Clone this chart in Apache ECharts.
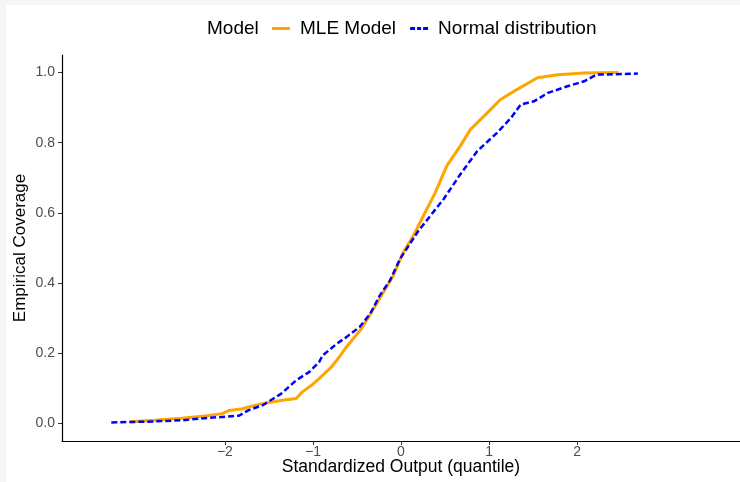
<!DOCTYPE html>
<html>
<head>
<meta charset="utf-8">
<script src="https://cdn.jsdelivr.net/npm/echarts@6/dist/echarts.min.js"></script>
<style>html,body{margin:0;padding:0;background:#f7f5f7;}#c{width:740px;height:482px;}</style>
</head>
<body>
<div id="c"></div>
<script>
const xTicks = [-2, -1, 0, 1, 2];
const yTicks = [0, 0.2, 0.4, 0.6, 0.8, 1.0];
const seriesNames = ['MLE Model', 'Normal distribution'];
const mleModel = [
  [-3.08,0.005],[-2.8,0.009],[-2.49,0.015],[-2.2,0.022],[-2.03,0.028],[-1.95,0.037],[-1.8,0.042],
  [-1.73,0.047],[-1.6,0.055],[-1.5,0.060],[-1.35,0.066],[-1.19,0.071],[-1.12,0.090],[-1.02,0.108],
  [-0.93,0.128],[-0.79,0.161],[-0.7,0.19],[-0.62,0.218],[-0.45,0.27],[-0.335,0.317],[-0.2,0.374],
  [-0.088,0.421],[0.026,0.488],[0.14,0.535],[0.255,0.592],[0.389,0.658],[0.52,0.734],[0.674,0.791],
  [0.789,0.838],[0.98,0.885],[1.13,0.923],[1.32,0.952],[1.55,0.985],[1.78,0.994],[2.08,0.999],[2.47,1.0]
];
const normalDist = [
  [-3.29,0.003],[-2.9,0.005],[-2.49,0.009],[-2.18,0.016],[-1.84,0.022],[-1.73,0.038],[-1.57,0.052],
  [-1.48,0.066],[-1.36,0.085],[-1.19,0.123],[-1.04,0.147],[-0.93,0.175],[-0.89,0.194],[-0.73,0.227],
  [-0.62,0.246],[-0.47,0.275],[-0.35,0.3125],[-0.24,0.365],[-0.126,0.407],[-0.011,0.469],[0.198,0.549],
  [0.483,0.639],[0.674,0.710],[0.865,0.776],[1.09,0.828],[1.25,0.871],[1.36,0.909],[1.51,0.918],
  [1.67,0.942],[1.89,0.961],[2.08,0.975],[2.22,0.994],[2.69,0.997]
];

const chart = echarts.init(document.getElementById('c'), null, {renderer: 'canvas'});
const FONT = 'Liberation Sans';
chart.setOption({
  backgroundColor: '#f7f5f7',
  animation: false,
  graphic: [
    {type: 'rect', left: 6, top: 5, shape: {width: 734, height: 477}, style: {fill: '#ffffff'}, z: -100, silent: true},
    {type: 'text', x: 207, y: 29, style: {text: 'Model', font: '19px "Liberation Sans"', fill: '#000', textVerticalAlign: 'middle'}}
  ],
  legend: {
    left: 272, top: 19, padding: 0,
    itemWidth: 18, itemHeight: 3, itemGap: 14,
    data: [
      {name: seriesNames[0], icon: 'path://M0,0H18V3H0Z'},
      {name: seriesNames[1], icon: 'path://M0,0H5V3H0Z M7,0H11V3H7Z M13,0H18V3H13Z'}
    ],
    textStyle: {fontFamily: FONT, fontSize: 19, color: '#000', padding: [0, 0, 0, 5]}
  },
  grid: {left: 62, right: 0, top: 55, bottom: 41, containLabel: false, outerBoundsMode: 'none'},
  xAxis: {
    type: 'value', min: -3.85, max: 3.85,
    name: 'Standardized Output (quantile)', nameLocation: 'middle', nameGap: 17, nameMoveOverlap: false,
    nameTextStyle: {fontFamily: FONT, fontSize: 17.5, color: '#000'},
    axisLine: {show: true, onZero: false, lineStyle: {color: '#000', width: 1.2}},
    axisTick: {show: true, length: 4, customValues: xTicks, lineStyle: {color: '#333'}},
    axisLabel: {customValues: xTicks, fontFamily: FONT, fontSize: 14, color: '#4d4d4d', margin: 4,
      formatter: v => String(v).replace('-', '\u2212')},
    splitLine: {show: false}
  },
  yAxis: {
    type: 'value', min: -0.05, max: 1.05,
    name: 'Empirical Coverage', nameLocation: 'middle', nameGap: 33, nameMoveOverlap: false,
    nameTextStyle: {fontFamily: FONT, fontSize: 17, color: '#000'},
    axisLine: {show: true, onZero: false, lineStyle: {color: '#000', width: 1.2}},
    axisTick: {show: true, length: 4, customValues: yTicks, lineStyle: {color: '#333'}},
    axisLabel: {customValues: yTicks, fontFamily: FONT, fontSize: 14, color: '#4d4d4d', margin: 7,
      formatter: v => v.toFixed(1)},
    splitLine: {show: false}
  },
  series: [
    {name: seriesNames[0], type: 'line', data: mleModel, symbol: 'none', showSymbol: false,
      lineStyle: {color: '#FFA500', width: 3}, itemStyle: {color: '#FFA500'}, z: 2},
    {name: seriesNames[1], type: 'line', data: normalDist, symbol: 'none', showSymbol: false,
      lineStyle: {color: '#0000FF', width: 2.5, type: [6, 3]}, itemStyle: {color: '#0000FF'}, z: 3}
  ]
});
</script>
</body>
</html>
